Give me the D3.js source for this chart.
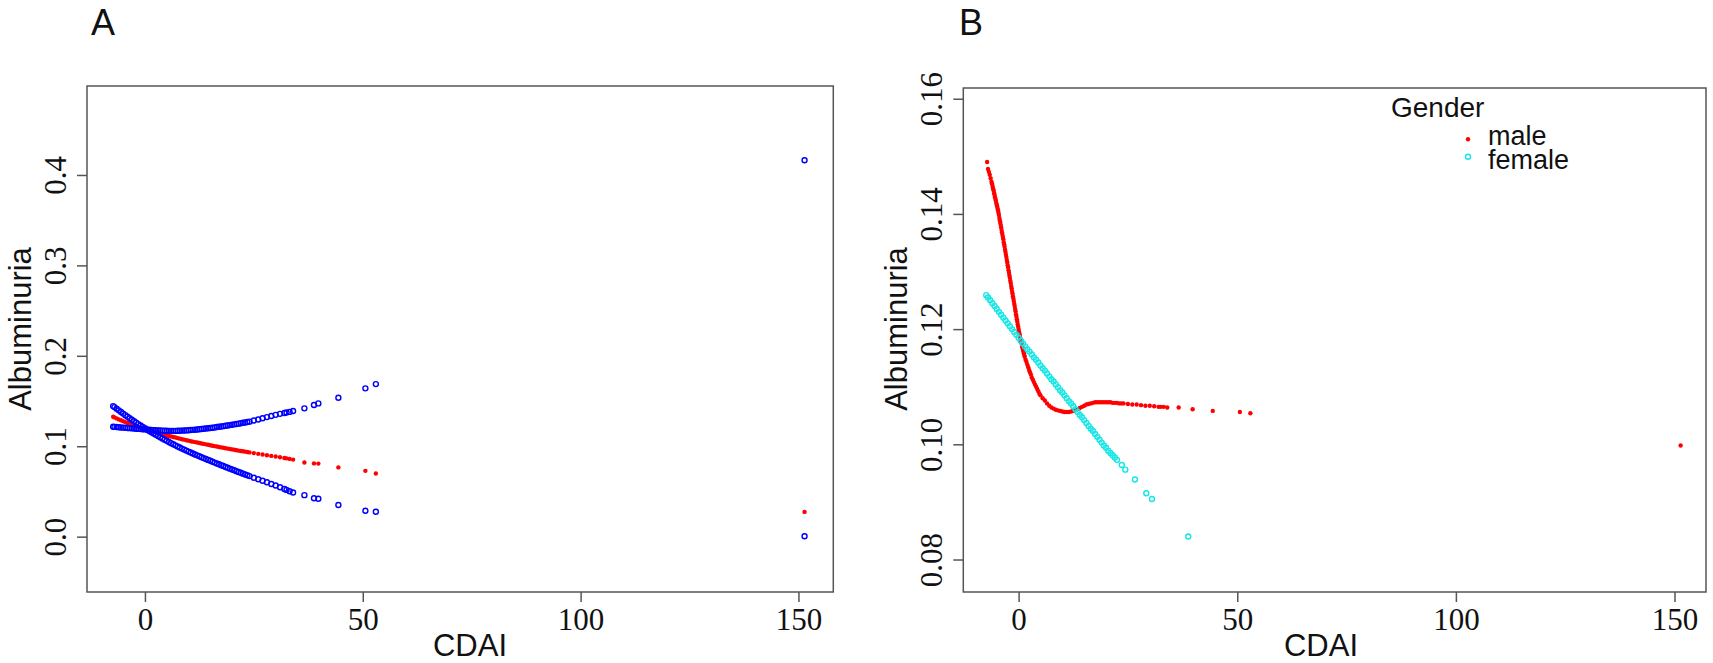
<!DOCTYPE html>
<html>
<head>
<meta charset="utf-8">
<script src="https://cdn.jsdelivr.net/npm/d3@7"></script>
<style>
  html, body { margin: 0; padding: 0; background: #ffffff; }
  svg { display: block; }
  .serif { font-family: "Liberation Serif", "Times New Roman", Times, serif; }
  .sans { font-family: "Liberation Sans", Arial, Helvetica, sans-serif; }
</style>
</head>
<body>
<svg id="chart" width="1713" height="663"></svg>
<script>
// ---------------- DATA ----------------
// Panel A : CDAI values and the three fitted series (estimate, two confidence bounds)
const cdaiA = [-7.3, -7, -6.5, -6, -5.5, -5, -4.5, -4, -3.5, -3, -2.5, -2, -1.5, -1, -0.5, 0, 0.5, 1, 1.5, 2, 2.5, 3, 3.5, 4, 4.5, 5, 5.5, 6, 6.5, 7, 7.5, 8, 8.5, 9, 9.5, 10, 10.5, 11, 11.5, 12, 12.5, 13, 13.5, 14, 14.5, 15, 15.5, 16, 16.5, 17, 17.5, 18, 18.5, 19, 19.5, 20, 20.5, 21, 21.5, 22, 22.5, 23, 23.5, 24, 25, 26, 27, 28, 29, 30, 31, 32, 32.5, 33.2, 34.0, 36.6, 38.8, 39.8, 44.4, 50.6, 53.0, 151.4];
const estimateA = [0.1326, 0.1319, 0.1308, 0.1297, 0.1287, 0.1277, 0.1267, 0.1257, 0.1248, 0.1239, 0.1230, 0.1221, 0.1213, 0.1205, 0.1197, 0.1189, 0.1181, 0.1174, 0.1167, 0.1160, 0.1153, 0.1146, 0.1140, 0.1133, 0.1127, 0.1120, 0.1114, 0.1108, 0.1102, 0.1096, 0.1090, 0.1084, 0.1078, 0.1073, 0.1067, 0.1062, 0.1056, 0.1051, 0.1046, 0.1041, 0.1036, 0.1031, 0.1026, 0.1021, 0.1016, 0.1011, 0.1006, 0.1001, 0.0997, 0.0992, 0.0987, 0.0983, 0.0978, 0.0974, 0.0969, 0.0965, 0.0961, 0.0956, 0.0952, 0.0948, 0.0944, 0.0940, 0.0936, 0.0932, 0.0924, 0.0916, 0.0908, 0.0900, 0.0893, 0.0886, 0.0878, 0.0870, 0.0866, 0.0860, 0.0852, 0.0821, 0.0810, 0.0808, 0.0766, 0.0728, 0.0699, 0.0274];
const boundDownA = [0.1444, 0.1433, 0.1415, 0.1397, 0.1379, 0.1361, 0.1344, 0.1327, 0.1310, 0.1293, 0.1277, 0.1261, 0.1245, 0.1229, 0.1214, 0.1199, 0.1184, 0.1169, 0.1155, 0.1141, 0.1127, 0.1113, 0.1099, 0.1086, 0.1073, 0.1060, 0.1047, 0.1034, 0.1022, 0.1010, 0.0998, 0.0986, 0.0974, 0.0963, 0.0952, 0.0941, 0.0930, 0.0919, 0.0909, 0.0899, 0.0889, 0.0879, 0.0869, 0.0859, 0.0849, 0.0839, 0.0829, 0.0819, 0.0809, 0.0800, 0.0790, 0.0781, 0.0771, 0.0762, 0.0752, 0.0743, 0.0734, 0.0724, 0.0715, 0.0706, 0.0697, 0.0688, 0.0679, 0.0670, 0.0652, 0.0635, 0.0618, 0.0601, 0.0583, 0.0565, 0.0546, 0.0527, 0.0517, 0.0503, 0.0489, 0.0459, 0.0425, 0.0420, 0.0350, 0.0286, 0.0276, 0.0004];
const boundUpA = [0.1215, 0.1214, 0.1212, 0.1210, 0.1208, 0.1206, 0.1204, 0.1202, 0.1200, 0.1198, 0.1196, 0.1194, 0.1192, 0.1190, 0.1188, 0.1186, 0.1184, 0.1182, 0.1180, 0.1178, 0.1177, 0.1175, 0.1174, 0.1173, 0.1172, 0.1171, 0.1170, 0.1170, 0.1170, 0.1170, 0.1171, 0.1172, 0.1173, 0.1174, 0.1175, 0.1177, 0.1179, 0.1181, 0.1183, 0.1185, 0.1188, 0.1190, 0.1193, 0.1196, 0.1199, 0.1202, 0.1205, 0.1208, 0.1212, 0.1215, 0.1219, 0.1222, 0.1226, 0.1230, 0.1234, 0.1238, 0.1242, 0.1246, 0.1250, 0.1254, 0.1259, 0.1263, 0.1268, 0.1272, 0.1284, 0.1296, 0.1309, 0.1322, 0.1335, 0.1347, 0.1358, 0.1368, 0.1373, 0.1380, 0.1389, 0.1419, 0.1456, 0.1474, 0.1536, 0.1640, 0.1687, 0.4163];

// Panel B : male
const cdaiMale = [-7.2, -7.0, -6.8, -6.6, -6.4, -6.2, -6.1, -6.0, -5.9, -5.8, -5.7, -5.6, -5.5, -5.4, -5.3, -5.2, -5.1, -5.0, -4.9, -4.8, -4.7, -4.6, -4.5, -4.4, -4.3, -4.2, -4.1, -4.0, -3.9, -3.8, -3.7, -3.6, -3.5, -3.4, -3.3, -3.2, -3.1, -3.0, -2.9, -2.8, -2.7, -2.6, -2.5, -2.4, -2.3, -2.2, -2.1, -2.0, -1.9, -1.8, -1.7, -1.6, -1.5, -1.4, -1.3, -1.2, -1.1, -1.0, -0.9, -0.8, -0.7, -0.6, -0.5, -0.4, -0.3, -0.2, -0.1, 0.0, 0.1, 0.2, 0.3, 0.4, 0.5, 0.6, 0.7, 0.8, 0.9, 1.0, 1.1, 1.2, 1.3, 1.4, 1.6, 1.8, 2.0, 2.2, 2.4, 2.6, 2.8, 3.0, 3.25, 3.5, 3.75, 4.0, 4.25, 4.5, 4.75, 5.0, 5.5, 6.0, 6.5, 7.0, 7.5, 8.0, 8.5, 9.0, 9.5, 10.0, 10.5, 11.0, 11.5, 12.0, 12.5, 13.0, 13.5, 14.0, 14.5, 15.0, 15.5, 16.0, 16.5, 17.0, 17.5, 18.0, 18.5, 19.0, 19.5, 20.0, 20.5, 21.0, 21.5, 22.0, 22.5, 23.0, 23.5, 24.0, 25, 26, 27, 28, 29, 30, 31, 32, 32.5, 33.2, 34.0, 36.6, 39.8, 44.4, 50.6, 53.0, 151.4];
const albMale = [0.1490, 0.1478, 0.1473, 0.1468, 0.1462, 0.1456, 0.1453, 0.1450, 0.1446, 0.1443, 0.1440, 0.1436, 0.1433, 0.1429, 0.1426, 0.1423, 0.1419, 0.1416, 0.1413, 0.1409, 0.1406, 0.1402, 0.1398, 0.1393, 0.1389, 0.1385, 0.1381, 0.1377, 0.1372, 0.1368, 0.1364, 0.1360, 0.1356, 0.1351, 0.1347, 0.1343, 0.1338, 0.1334, 0.1329, 0.1325, 0.1320, 0.1316, 0.1311, 0.1307, 0.1302, 0.1298, 0.1293, 0.1289, 0.1284, 0.1280, 0.1275, 0.1271, 0.1266, 0.1262, 0.1257, 0.1253, 0.1249, 0.1244, 0.1240, 0.1235, 0.1231, 0.1226, 0.1222, 0.1217, 0.1213, 0.1208, 0.1204, 0.1200, 0.1196, 0.1192, 0.1188, 0.1184, 0.1181, 0.1177, 0.1174, 0.1170, 0.1167, 0.1164, 0.1161, 0.1158, 0.1155, 0.1152, 0.1147, 0.1143, 0.1138, 0.1134, 0.1129, 0.1125, 0.1121, 0.1116, 0.1112, 0.1108, 0.1104, 0.1100, 0.1096, 0.1092, 0.1088, 0.1085, 0.1080, 0.1076, 0.1071, 0.1067, 0.1064, 0.1062, 0.1060, 0.1059, 0.1058, 0.1057, 0.1056, 0.1056, 0.1056, 0.1057, 0.1058, 0.1059, 0.1061, 0.1063, 0.1065, 0.1067, 0.1069, 0.1070, 0.1071, 0.1072, 0.1073, 0.1073, 0.1073, 0.1073, 0.1073, 0.1073, 0.1073, 0.1073, 0.1072, 0.1072, 0.1072, 0.1071, 0.1071, 0.1071, 0.1070, 0.1069, 0.1069, 0.1068, 0.1067, 0.1067, 0.1066, 0.1065, 0.1065, 0.1065, 0.1064, 0.1064, 0.1061, 0.1058, 0.1056, 0.1054, 0.0998];

// Panel B : female
const cdaiFemale = [-7.4, -7.0, -6.5, -6.0, -5.5, -5.0, -4.5, -4.0, -3.5, -3.0, -2.5, -2.0, -1.5, -1.0, -0.5, 0.0, 0.5, 1.0, 1.5, 2.0, 2.5, 3.0, 3.5, 4.0, 4.5, 5.0, 5.5, 6.0, 6.5, 7.0, 7.5, 8.0, 8.5, 9.0, 9.5, 10.0, 10.5, 11.0, 11.5, 12.0, 12.5, 13.0, 13.5, 14.0, 14.5, 15.0, 15.5, 16.0, 16.5, 17.0, 17.5, 18.0, 18.5, 19.0, 19.5, 20.0, 20.5, 21.0, 21.5, 22.0, 22.5, 23.6, 24.4, 26.6, 29.2, 30.5, 38.8];
const albFemale = [0.1259, 0.1255, 0.1250, 0.1245, 0.1240, 0.1235, 0.1230, 0.1225, 0.1220, 0.1215, 0.1210, 0.1205, 0.1200, 0.1195, 0.1190, 0.1185, 0.1180, 0.1175, 0.1170, 0.1165, 0.1161, 0.1156, 0.1151, 0.1147, 0.1142, 0.1137, 0.1132, 0.1128, 0.1123, 0.1118, 0.1113, 0.1109, 0.1104, 0.1099, 0.1094, 0.1090, 0.1085, 0.1080, 0.1075, 0.1071, 0.1066, 0.1061, 0.1056, 0.1051, 0.1047, 0.1042, 0.1037, 0.1032, 0.1027, 0.1023, 0.1018, 0.1013, 0.1008, 0.1003, 0.0998, 0.0994, 0.0989, 0.0985, 0.0981, 0.0977, 0.0973, 0.0964, 0.0956, 0.0939, 0.0915, 0.0905, 0.0840];

// Ticks, labels
const xTicks = [0, 50, 100, 150];
const yTicksA = [0.0, 0.1, 0.2, 0.3, 0.4];
const yTicksB = [0.08, 0.10, 0.12, 0.14, 0.16];
const panelLetters = ["A", "B"];
const xTitle = "CDAI";
const yTitle = "Albuminuria";
const legendTitle = "Gender";
const legendLabels = ["male", "female"];

// ---------------- STYLE / LAYOUT ----------------
const SERIF = '"Liberation Serif", "Times New Roman", Times, serif';
const SANS = '"Liberation Sans", Arial, Helvetica, sans-serif';
const AXIS_COL = "#555555";
const TXT = "#111111";
const RED = "#ff0000", BLUE = "#0000ff", CYAN = "#18e6e6";

const svg = d3.select("#chart");

const panels = [
  { box: { l: 87, r: 833.3, t: 86, b: 592 }, xd: [-13.3, 158.0], yd: [-0.0612, 0.4984],
    yTicks: yTicksA, fmt: d3.format(".1f"), letter: panelLetters[0], letterX: 91, xTitleX: 470 },
  { box: { l: 963.3, r: 1706, t: 88, b: 592 }, xd: [-12.65, 157.2], yd: [0.07436, 0.16186],
    yTicks: yTicksB, fmt: d3.format(".2f"), letter: panelLetters[1], letterX: 959, xTitleX: 1321 }
];

panels.forEach(p => {
  p.x = d3.scaleLinear().domain(p.xd).range([p.box.l, p.box.r]);
  p.y = d3.scaleLinear().domain(p.yd).range([p.box.b, p.box.t]);
});

function drawFrame(p) {
  const g = svg.append("g");
  // x axis
  const gx = g.append("g").attr("transform", `translate(0,${p.box.b})`)
    .call(d3.axisBottom(p.x).tickValues(xTicks).tickSize(10).tickFormat(d3.format("d")));
  gx.attr("font-family", null).attr("font-size", null);
  gx.select(".domain").remove();
  gx.selectAll(".tick line").attr("stroke", AXIS_COL).attr("stroke-width", 1.5);
  gx.selectAll(".tick text").attr("y", 38).attr("dy", 0)
    .attr("class", "serif")
    .style("font-family", SERIF).style("font-size", "31px").attr("fill", TXT);
  // y axis
  const gy = g.append("g").attr("transform", `translate(${p.box.l},0)`)
    .call(d3.axisLeft(p.y).tickValues(p.yTicks).tickSize(10).tickFormat(p.fmt));
  gy.attr("font-family", null).attr("font-size", null);
  gy.select(".domain").remove();
  gy.selectAll(".tick line").attr("stroke", AXIS_COL).attr("stroke-width", 1.5);
  gy.selectAll(".tick text")
    .attr("x", 0).attr("y", 0).attr("dy", 0)
    .attr("text-anchor", "middle")
    .attr("transform", "translate(-21,0) rotate(-90)")
    .attr("class", "serif")
    .style("font-family", SERIF).style("font-size", "31px").attr("fill", TXT);
  // box
  g.append("rect")
    .attr("x", p.box.l).attr("y", p.box.t)
    .attr("width", p.box.r - p.box.l).attr("height", p.box.b - p.box.t)
    .attr("fill", "none").attr("stroke", AXIS_COL).attr("stroke-width", 1.5);
  // titles
  g.append("text").attr("x", p.xTitleX).attr("y", 656)
    .attr("text-anchor", "middle").attr("class", "sans")
    .style("font-family", SANS).style("font-size", "31px")
    .attr("fill", TXT).text(xTitle);
  g.append("text")
    .attr("transform", `translate(${p.box.l - 56},329) rotate(-90)`)
    .attr("text-anchor", "middle").attr("class", "sans")
    .style("font-family", SANS).style("font-size", "31px")
    .attr("fill", TXT).text(yTitle);
  g.append("text").attr("x", p.letterX).attr("y", 34.5).attr("class", "sans")
    .style("font-family", SANS).style("font-size", "36px").attr("fill", TXT).text(p.letter);
}

function dots(p, xs, ys, color) {
  svg.append("g").selectAll("circle").data(xs.map((v, i) => [v, ys[i]])).join("circle")
    .attr("cx", d => p.x(d[0])).attr("cy", d => p.y(d[1]))
    .attr("r", 2.2).attr("fill", color);
}
function rings(p, xs, ys, color) {
  svg.append("g").selectAll("circle").data(xs.map((v, i) => [v, ys[i]])).join("circle")
    .attr("cx", d => p.x(d[0])).attr("cy", d => p.y(d[1]))
    .attr("r", 2.5).attr("fill", "none").attr("stroke", color).attr("stroke-width", 1.4);
}

// Panel A
const pA = panels[0];
drawFrame(pA);
dots(pA, cdaiA, estimateA, RED);
rings(pA, cdaiA, boundDownA, BLUE);
rings(pA, cdaiA, boundUpA, BLUE);

// Panel B
const pB = panels[1];
drawFrame(pB);
dots(pB, cdaiMale, albMale, RED);
rings(pB, cdaiFemale, albFemale, CYAN);

// Legend (panel B)
const lg = svg.append("g");
lg.append("text").attr("x", 1391).attr("y", 117).attr("class", "sans")
  .style("font-family", SANS).style("font-size", "28px").attr("fill", TXT).text(legendTitle);
const legendY = [145, 168.5];
const legendMarkY = [139.3, 156.7];
legendLabels.forEach((lab, i) => {
  lg.append("text").attr("x", 1488).attr("y", legendY[i]).attr("class", "sans")
    .style("font-family", SANS).style("font-size", "27px").attr("fill", TXT).text(lab);
  if (i === 0) {
    lg.append("circle").attr("cx", 1468).attr("cy", legendMarkY[i]).attr("r", 2.2).attr("fill", RED);
  } else {
    lg.append("circle").attr("cx", 1468).attr("cy", legendMarkY[i]).attr("r", 2.5)
      .attr("fill", "none").attr("stroke", CYAN).attr("stroke-width", 1.4);
  }
});
</script>
</body>
</html>
